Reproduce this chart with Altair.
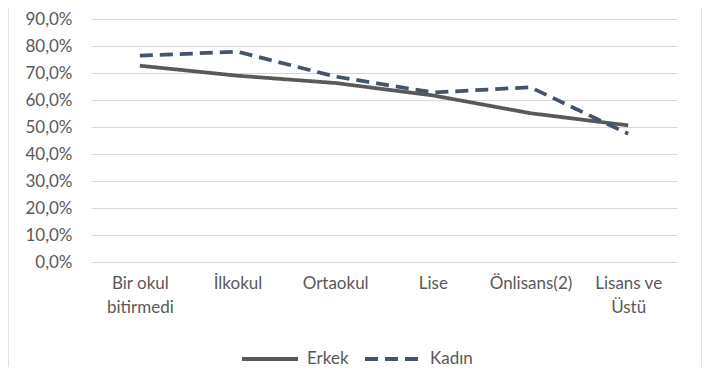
import altair as alt
import pandas as pd

categories = ["Bir okul bitirmedi", "İlkokul", "Ortaokul", "Lise", "Önlisans(2)", "Lisans ve Üstü"]
erkek = [0.727, 0.690, 0.663, 0.617, 0.551, 0.506]
kadin = [0.764, 0.779, 0.687, 0.628, 0.647, 0.475]
series = ["Erkek", "Kadın"]
colors = ["#595959", "#44546A"]

rows = []
for c, v in zip(categories, erkek):
    rows.append({"kategori": c, "oran": v, "seri": "Erkek"})
for c, v in zip(categories, kadin):
    rows.append({"kategori": c, "oran": v, "seri": "Kadın"})
df = pd.DataFrame(rows)

FONT = "Lato"
TXT = "#595959"
FS = 17

label_expr = ("datum.label == 'Bir okul bitirmedi' ? ['Bir okul', 'bitirmedi'] : "
              "datum.label == 'Lisans ve Üstü' ? ['Lisans ve', 'Üstü'] : datum.label")

lines = alt.Chart(df).mark_line(strokeWidth=3.75, strokeCap="butt").encode(
    x=alt.X("kategori:N", sort=categories, title=None,
            scale=alt.Scale(paddingInner=0, paddingOuter=0.5),
            axis=alt.Axis(labelAngle=0, labelExpr=label_expr, labelLineHeight=24,
                          labelPadding=13, ticks=False, domain=False, grid=False,
                          labelFont=FONT, labelFontSize=FS, labelColor=TXT)),
    y=alt.Y("oran:Q", title=None,
            scale=alt.Scale(domain=[0, 0.9], nice=False),
            axis=alt.Axis(values=[i / 10 for i in range(10)],
                          labelExpr="replace(format(datum.value, '.1%'), '.', ',')",
                          ticks=False, domain=False, gridColor="#d9d9d9", gridWidth=1,
                          labelPadding=19, labelFont=FONT, labelFontSize=FS, labelColor=TXT)),
    color=alt.Color("seri:N", sort=series,
                    scale=alt.Scale(domain=series, range=colors),
                    legend=alt.Legend(title=None, orient="none", direction="horizontal",
                                      legendX=149, legendY=310, padding=0,
                                      symbolType="stroke", symbolSize=3136,
                                      symbolStrokeWidth=4, labelOffset=7,
                                      columnPadding=8,
                                      labelFont=FONT, labelFontSize=FS, labelColor=TXT)),
    strokeDash=alt.StrokeDash("seri:N", sort=series,
                              scale=alt.Scale(domain=series, range=[[1, 0], [13, 7]]),
                              legend=None),
)

frame = alt.Chart(pd.DataFrame({"k": [0]})).mark_rect(fill=None, stroke="#d9d9d9", strokeWidth=1.5).encode(
    x=alt.value(-83), x2=alt.value(611), y=alt.value(-40), y2=alt.value(420)
)

chart = alt.layer(lines, frame).properties(
    width=586, height=243,
    autosize=alt.AutoSizeParams(type="none"),
    padding={"left": 83, "top": 11, "right": 25, "bottom": 105},
).configure_view(stroke=None)

chart.save("out.html", embed_options={"renderer": "svg", "actions": False})
